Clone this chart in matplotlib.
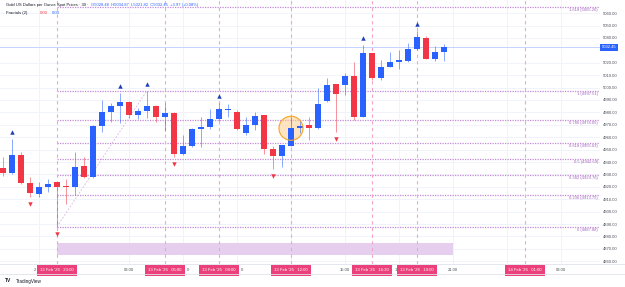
import matplotlib
matplotlib.use("Agg")
import matplotlib.pyplot as plt
import matplotlib.transforms as mtransforms
import numpy as np

plt.rcParams['font.family'] = ['Liberation Sans', 'DejaVu Sans']

# bar index: 0 = 12 Feb '26 23:00, 30-minute bars
bar_idx = list(range(-6, 44))
opens = [4935.4, 4931.4, 4945.7, 4922.9, 4914.2, 4920.1, 4923.7, 4920.7, 4920.1, 4936.8,
         4927.7, 4969.0, 4980.1, 4985.4, 4988.6, 4977.9, 4981.1, 4985.2, 4976.5, 4979.8,
         4946.2, 4952.9, 4966.6, 4968.5, 4974.7, 4981.9, 4980.1, 4963.6, 4969.9, 4977.9,
         4950.3, 4944.9, 4953.2, 4967.2, 4969.9, 4967.2, 4989.2, 5002.7, 5002.1, 5009.4,
         4976.5, 5027.6, 5007.5, 5016.8, 5020.4, 5021.4, 5030.9, 5040.2, 5023.1, 5028.48]
highs = [4944.3, 4958.3, 4948.3, 4927.9, 4924.1, 4926.6, 4923.9, 4926.3, 4948.3, 4944.3,
         4969.9, 4990.0, 4987.6, 4995.4, 4988.9, 4983.6, 4997.51, 4986.0, 4987.3, 4980.0,
         4961.8, 4967.2, 4976.1, 4982.5, 4987.8, 4986.8, 4981.9, 4976.1, 4980.6, 4978.1,
         4952.9, 4954.0, 4976.1, 4973.9, 4976.1, 4999.4, 5007.5, 5002.9, 5011.5, 5020.9,
         5034.3, 5027.8, 5022.2, 5028.9, 5030.3, 5035.7, 5045.9, 5041.8, 5033.8, 5034.87]
lows = [4928.7, 4930.3, 4922.0, 4911.8, 4912.1, 4916.1, 4887.88, 4906.2, 4913.4, 4927.1,
        4927.2, 4964.5, 4972.5, 4971.7, 4975.5, 4974.7, 4975.3, 4972.5, 4965.3, 4944.1,
        4945.8, 4951.9, 4951.9, 4966.6, 4973.3, 4976.5, 4965.8, 4961.8, 4965.8, 4946.5,
        4934.1, 4935.8, 4953.0, 4963.6, 4957.8, 4967.0, 4988.6, 4964.5, 4994.0, 4973.9,
        4976.3, 5006.1, 5006.1, 5016.4, 5015.0, 5020.4, 5030.7, 5022.9, 5021.7, 5021.82]
closes = [4931.4, 4945.7, 4922.9, 4914.8, 4920.1, 4922.0, 4919.6, 4919.9, 4936.2, 4927.7,
          4969.3, 4980.6, 4985.4, 4988.6, 4977.9, 4981.1, 4985.2, 4976.5, 4979.3, 4946.2,
          4952.9, 4966.6, 4968.0, 4974.7, 4982.5, 4982.5, 4966.4, 4969.9, 4977.1, 4950.3,
          4944.9, 4953.7, 4967.2, 4969.0, 4967.2, 4986.8, 5002.1, 4994.6, 5009.6, 4976.5,
          5027.6, 5007.5, 5016.8, 5020.9, 5022.2, 5030.9, 5041.0, 5023.1, 5028.5, 5032.45]

fractal_up = [-5, 7, 10, 18, 34, 40]
fractal_down = [-3, 0, 13, 24, 31]

fib_low, fib_high = 4887.88, 4997.51
fib_start, fib_end = 0, 10
fib_ratios = [1.618, 1, 0.786, 0.618, 0.5, 0.382, 0.236, 0]

# vertical markers and their labels
marker_bars = [0, 12, 18, 26, 35, 40, 52]
marker_labels = ["12 Feb '26   23:00", "13 Feb '26   05:00", "13 Feb '26   08:00",
                 "13 Feb '26   12:00", "13 Feb '26   16:30", "13 Feb '26   19:00",
                 "14 Feb '26   01:00"]
# time scale labels (partly covered ones show only what peeks out)
tick_bars = [-2.5, 8, 14.6, 20.6, 32, 37.6, 44, 56]
tick_labels = ["2", "03:00", "0", "0", "15:00", "1", "21:00", "03:00"]
grid_bars = [-2, 8, 14, 20, 26, 32, 38, 44, 50, 56]

price_ticks = [4860, 4870, 4880, 4890, 4900, 4910, 4920, 4930, 4940, 4950, 4960,
               4970, 4980, 4990, 5000, 5010, 5020, 5040, 5050, 5060]
last_price = 5032.45
zone_bars = (0, 44)
zone_prices = (4865.1, 4874.7)
circle_bar, circle_price = 26, 4967.2

BLUE = "#2962FF"
RED = "#F23645"
PINK = "#EC407A"
FIB = "#c38bd6"
FIB_TXT = "#a564c2"
GRID = "#f0f3fa"
TXT = "#4a4e59"

fig = plt.figure(figsize=(6.25, 2.87), dpi=100)
ax = fig.add_axes([0, 23 / 287, 600 / 625, 264 / 287])
ax.set_xlim(-6.33, 60.33)
ax.set_ylim(4857.8, 5070.6)
for s in ax.spines.values():
    s.set_visible(False)

# grid
for p in price_ticks:
    ax.axhline(p, color=GRID, lw=0.7, zorder=0)
for b in grid_bars:
    ax.axvline(b, color=GRID, lw=0.7, zorder=0)

# zone
ax.fill_between([zone_bars[0], zone_bars[1]], zone_prices[0], zone_prices[1],
                color="#e6cfee", lw=0, zorder=1)

# fib retracement
rng = fib_high - fib_low
for r in fib_ratios:
    lvl = fib_low + r * rng
    ax.plot([fib_start, 60.2], [lvl, lvl], color=FIB, lw=0.9, ls=(0, (1, 1)), zorder=1)
    lab = "%s (%.2f)" % (("%g" % r), lvl)
    ax.text(60.1, lvl - 2.6, lab, color=FIB_TXT, fontsize=3, ha="right", va="center",
            zorder=2)
ax.plot([fib_start, fib_end], [fib_low, fib_high], color="#d7b5e2", lw=0.6,
        ls=(0, (2, 2)), zorder=1)

# vertical markers
for b in marker_bars:
    ax.axvline(b, color="#f4a6c4", lw=0.8, ls=(0, (3, 3)), zorder=1)

# current price line
ax.axhline(last_price, color="#c5d4ff", lw=0.7, zorder=1)

# candles
for i, o, h, l, c in zip(bar_idx, opens, highs, lows, closes):
    col = BLUE if c >= o else RED
    ax.vlines(i, l, h, color=col, lw=0.7, alpha=0.55, zorder=3)
    body = max(abs(c - o), 0.6)
    ax.bar(i, body, bottom=min(o, c), width=0.68, color=col, lw=0, zorder=4)

# fractals
hi_map = dict(zip(bar_idx, highs))
lo_map = dict(zip(bar_idx, lows))
up_tr = mtransforms.offset_copy(ax.transData, fig=fig, x=0, y=5, units="points")
dn_tr = mtransforms.offset_copy(ax.transData, fig=fig, x=0, y=-5, units="points")
ax.plot(fractal_up, [hi_map[b] for b in fractal_up], "^", color="#1c3fb8", ms=3.2,
        mew=0, transform=up_tr, zorder=5)
ax.plot(fractal_down, [lo_map[b] for b in fractal_down], "v", color=RED, ms=3.2,
        mew=0, transform=dn_tr, zorder=5)

# highlight circle
ax.scatter([circle_bar], [circle_price], s=300, facecolor="#ffcf8f", alpha=0.55,
           edgecolor="none", zorder=2)
ax.scatter([circle_bar], [circle_price], s=300, facecolor="none", edgecolor="#f5a623",
           lw=0.8, zorder=5)

# price scale
ax.yaxis.tick_right()
ax.set_yticks(price_ticks)
ax.set_yticklabels(["%.2f" % p for p in price_ticks])
ax.tick_params(axis="y", length=0, pad=2, labelsize=3, labelcolor=TXT)
ax.set_xticks([])
ax.text(1.003, last_price, "%.2f" % last_price, transform=ax.get_yaxis_transform(),
        fontsize=3, color="white", va="center", ha="left", clip_on=False, zorder=6,
        bbox=dict(boxstyle="square,pad=0.35", fc=BLUE, ec="none"))

# time scale
xt = ax.get_xaxis_transform()
for b, t in zip(tick_bars, tick_labels):
    ax.text(b, -0.024, t, transform=xt, fontsize=3, color=TXT, ha="center",
            va="center", clip_on=False, zorder=5)
for b, t in zip(marker_bars, marker_labels):
    ax.text(b, -0.024, t, transform=xt, fontsize=3.1, color="white", ha="center",
            va="center", clip_on=False, zorder=7,
            bbox=dict(boxstyle="square,pad=0.8", fc=PINK, ec="none"))

fig.add_artist(plt.Line2D([0, 1], [1 - 264 / 287] * 2, color="#e0e3eb", lw=0.6))
fig.add_artist(plt.Line2D([0, 1], [1 - 274 / 287] * 2, color="#e0e3eb", lw=0.6))

# legend
fig.text(0.009, 1 - 5 / 287, "Gold US Dollars per Ounce Spot Prices · 30 ·", fontsize=3.0,
         color="#131722", va="center")
fig.text(0.146, 1 - 5 / 287, "O5028.48  H5034.87  L5021.82  C5032.45  +3.97 (+0.08%)",
         fontsize=3.0, color=BLUE, va="center")
fig.text(0.009, 1 - 13 / 287, "Fractals (2)", fontsize=3.1, color="#131722", va="center")
fig.text(0.064, 1 - 13 / 287, "0.00", fontsize=3.1, color=RED, va="center")
fig.text(0.083, 1 - 13 / 287, "0.00", fontsize=3.1, color=BLUE, va="center")

fig.text(0.008, 1 - 281 / 287, "TV", fontsize=3.5, color="#131722", va="center",
         weight="bold")
fig.text(0.025, 1 - 281 / 287, "TradingView", fontsize=3.3, color="#131722", va="center")

fig.savefig("out.png", dpi=100)
